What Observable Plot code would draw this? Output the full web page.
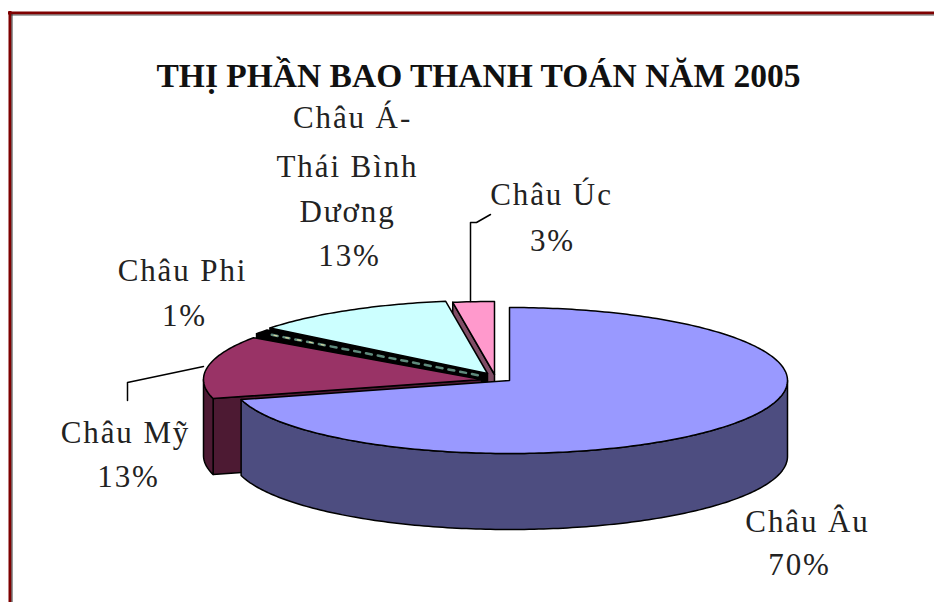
<!DOCTYPE html>
<html><head><meta charset="utf-8">
<script src="https://cdn.jsdelivr.net/npm/d3@7"></script>
<script src="https://cdn.jsdelivr.net/npm/@observablehq/plot@0.6"></script>
<style>html,body{margin:0;padding:0;background:#fff}svg{display:block}
.lbl text{letter-spacing:1.9px}</style></head><body><div id="c"></div>
<script>
const title = "THỊ PHẦN BAO THANH TOÁN NĂM 2005";
const regions = ["Châu Âu","Châu Mỹ","Châu Phi","Châu Á-Thái Bình Dương","Châu Úc"];
const percents = [70,13,1,13,3];
// slice widths (percent of the circle)
const shares = [70.8,13.9,1.0,11.9,2.4];
const topColors = ["#9999ff","#993366","#000000","#ccffff","#ff99cc"];
const wallColors = ["#4d4d80","#4d1a33","#000000","#000000","#804d66"];
// layout
const rx = 278, ry = 73, depth = 76;
const centers = [[509,380],[481,379],[484,375],[487,373],[494,374]];
const labelLines = [
 ["Châu Âu",807,522],["70%",799,565],
 ["Châu Mỹ",125,433],["13%",128,477],
 ["Châu Phi",182,271],["1%",184,316],
 ["Châu Á-",352,118],["Thái Bình",347,167],["Dương",347,212],["13%",349,256],
 ["Châu Úc",551,195],["3%",552,241]
];
const leaders = [[[470,301],[470,222],[476,222],[490,214]],[[203,366],[127,382],[127,400]]];

const cum = d3.cumsum(shares);
const deg = p => p*3.6;
const bounds = shares.map((s,i)=>[deg(cum[i]-s),deg(cum[i])]);
const pt = (i,a,dz=0,r=1)=>{const t=a*Math.PI/180;return {x:centers[i][0]+r*rx*Math.sin(t),y:centers[i][1]-r*ry*Math.cos(t)+dz};};
const arc = (i,a0,a1,dz=0)=>{const n=Math.max(2,Math.ceil(Math.abs(a1-a0)));return d3.range(n+1).map(k=>pt(i,a0+(a1-a0)*k/n,dz));};
const topPoly = i=>{const [a,b]=bounds[i];const apex=pt(i,0,0,0);return [apex,...arc(i,a,b),apex];};
const arcWall = (i,a,b)=>{const top=arc(i,a,b),bot=arc(i,b,a,depth);return [...top,...bot,top[0]];};
const cutWall = (i,a)=>{const e=pt(i,a),c=pt(i,0,0,0);const e2={x:e.x,y:e.y+depth},c2={x:c.x,y:c.y+depth};return [e,c,c2,e2,e];};
const poly=(d,fill,sw=1.5)=>Plot.line(d,{x:"x",y:"y",fill,stroke:"#000",strokeWidth:sw,curve:"linear",strokeLinejoin:"round"});

const marks=[];
// top and left frame
marks.push(Plot.ruleY([12.5],{x1:8,x2:934,stroke:"#7f0000",strokeWidth:3}));
marks.push(Plot.ruleY([14.5],{x1:11,x2:934,stroke:"#555",strokeWidth:1}));
marks.push(Plot.ruleX([9.5],{y1:11,y2:602,stroke:"#7f0000",strokeWidth:3}));
marks.push(Plot.ruleX([11.5],{y1:14,y2:602,stroke:"#333",strokeWidth:1}));
// Úc
marks.push(poly(cutWall(4,bounds[4][0]),wallColors[4]));
marks.push(poly(topPoly(4),topColors[4]));
// Á wall and Phi
marks.push(poly(cutWall(3,bounds[3][0]),wallColors[3]));
marks.push(poly(cutWall(2,bounds[2][0]),wallColors[2]));
marks.push(poly(topPoly(2),topColors[2]));
// Mỹ
marks.push(poly(cutWall(1,bounds[1][0]),wallColors[1]));
marks.push(poly(arcWall(1,bounds[1][0],270),wallColors[1]));
marks.push(poly(topPoly(1),topColors[1]));
// Á
marks.push(poly(topPoly(3),topColors[3]));
// Phi highlight
const mid=(bounds[2][0]+bounds[2][1])/2;
marks.push(Plot.line([pt(2,mid,1,0.03),pt(2,mid,1,0.98)],{x:"x",y:"y",stroke:"#5f8a7c",strokeWidth:2.5,strokeDasharray:"6,6"}));
marks.push(Plot.line([pt(2,mid,1,0.72),pt(2,mid,1,0.98)],{x:"x",y:"y",stroke:"#d8d8a0",strokeWidth:1.2,strokeDasharray:"3,9"}));
// Âu
marks.push(poly(arcWall(0,90,bounds[0][1]),wallColors[0]));
marks.push(poly(topPoly(0),topColors[0]));
// leaders
leaders.forEach(l=>marks.push(Plot.line(l.map(([x,y])=>({x,y})),{x:"x",y:"y",stroke:"#000",strokeWidth:1.5})));
// text
marks.push(Plot.text(labelLines,{x:d=>d[1],y:d=>d[2],text:d=>d[0],fontSize:31,fontFamily:"Liberation Serif",fill:"#222",className:"lbl"}));
marks.push(Plot.text([title],{x:()=>478,y:()=>76,text:d=>d,fontSize:33.5,fontWeight:"bold",fontFamily:"Liberation Serif",fill:"#111"}));

document.getElementById("c").append(Plot.plot({
  width:934,height:602,margin:0,
  x:{domain:[0,934],range:[0,934],axis:null},
  y:{domain:[0,602],range:[0,602],axis:null},
  marks
}));
</script></body></html>
